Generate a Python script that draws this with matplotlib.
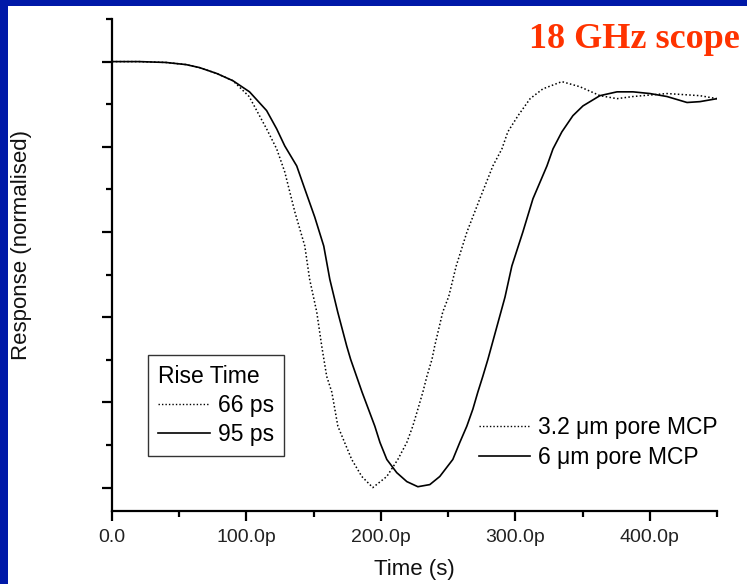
import numpy as np
import matplotlib
matplotlib.use("Agg")
import matplotlib.pyplot as plt
from matplotlib.patches import Rectangle
from matplotlib.lines import Line2D

plt.rcParams['font.family'] = ['Liberation Sans', 'DejaVu Sans']

# ---- data (time in ps, normalised response)
t_32 = [0, 20, 40, 55, 65, 78, 90, 102, 115, 122.5, 128.5, 136, 143.4, 147,
        152.3, 156, 159.7, 163.5, 168, 173, 178.3, 185.8, 194, 204.4, 212.6,
        219.3, 223.7, 227.5, 231.2, 234.2, 238, 240, 246, 250.5, 256, 264,
        273.6, 283.3, 290, 294.4, 302, 311, 320.5, 334.6, 348, 363, 375.6,
        387.5, 412.8, 437.3, 450]
v_32 = [1.000, 1.000, 0.998, 0.993, 0.986, 0.972, 0.955, 0.918, 0.842, 0.795,
        0.741, 0.647, 0.567, 0.489, 0.412, 0.332, 0.261, 0.224, 0.144, 0.106,
        0.066, 0.026, 0.000, 0.026, 0.066, 0.106, 0.144, 0.184, 0.224, 0.261,
        0.301, 0.332, 0.412, 0.449, 0.520, 0.600, 0.678, 0.755, 0.795, 0.835,
        0.873, 0.913, 0.936, 0.953, 0.941, 0.920, 0.913, 0.918, 0.925, 0.920,
        0.913]

t_6 = [0, 20, 40, 55, 65, 78, 90, 102.3, 115, 122.5, 128.5, 137.4, 143.4,
       150.8, 157.5, 162, 167.9, 174.6, 177.5, 186, 195.5, 199.3, 204.4,
       211.8, 219.3, 227.5, 236.4, 243.8, 253.5, 258.7, 263.9, 268.4, 272.1,
       275.8, 279.6, 292.3, 297.4, 305.6, 313.1, 323.5, 328, 334.6, 342.8,
       350.3, 362.9, 375.6, 387.5, 400.1, 412.8, 427.7, 437.3, 450]
v_6 = [1.000, 1.000, 0.998, 0.993, 0.986, 0.972, 0.955, 0.929, 0.885, 0.842,
       0.802, 0.755, 0.701, 0.635, 0.567, 0.489, 0.412, 0.332, 0.301, 0.224,
       0.144, 0.106, 0.066, 0.035, 0.014, 0.002, 0.007, 0.026, 0.066, 0.106,
       0.144, 0.184, 0.224, 0.261, 0.301, 0.447, 0.520, 0.600, 0.678, 0.755,
       0.795, 0.835, 0.873, 0.896, 0.920, 0.929, 0.929, 0.925, 0.918, 0.904,
       0.906, 0.913]

xticks = [0, 100, 200, 300, 400]
xtick_labels = ["0.0", "100.0p", "200.0p", "300.0p", "400.0p"]
rise_labels = ["66 ps", "95 ps"]
pore_labels = ["3.2 \u03bcm pore MCP", "6 \u03bcm pore MCP"]

fig = plt.figure(figsize=(7.47, 5.84), dpi=100)
fig.patch.set_facecolor('#0019A8')
fig.add_artist(Rectangle((8 / 747, 0), 1, 1 - 6 / 584, transform=fig.transFigure,
                         facecolor='white', edgecolor='none', zorder=-10))

ax = fig.add_axes([112 / 747, 1 - 511 / 584, 605 / 747, 492 / 584])
ax.set_facecolor('none')

l32, = ax.plot(t_32, v_32, color='black', lw=1.1, ls=(0, (1, 1.5)))
l6, = ax.plot(t_6, v_6, color='black', lw=1.2, ls='-')

ax.set_xlim(0, 450)
ax.set_ylim(-0.055, 1.1)

for s in ['top', 'right']:
    ax.spines[s].set_visible(False)
for s in ['left', 'bottom']:
    ax.spines[s].set_linewidth(1.6)

ax.set_xticks(xticks)
ax.set_xticklabels(xtick_labels)
ax.set_xticks(np.arange(50, 451, 100), minor=True)
ax.set_yticks(np.arange(0, 1.01, 0.2))
ax.set_yticklabels([])
ax.set_yticks(np.arange(0.1, 1.11, 0.2), minor=True)
ax.tick_params(which='major', length=7, width=1.6, labelsize=14,
               colors='black', labelcolor='#222222', pad=6)
ax.tick_params(which='minor', length=4, width=1.6)

ax.set_xlabel("Time (s)", fontsize=16, color='#111111')
ax.xaxis.set_label_coords(0.5, -0.098)
ax.set_ylabel("Response (normalised)", fontsize=16, color='#111111')
ax.yaxis.set_label_coords(-0.133, 0.54)

h_dot = Line2D([], [], color='black', lw=1.0, ls=(0, (1, 1.5)))
h_sol = Line2D([], [], color='black', lw=1.2, ls='-')

leg1 = ax.legend([h_dot, h_sol], rise_labels, title="Rise Time",
                 loc='upper left', bbox_to_anchor=(0.0595, 0.317),
                 borderaxespad=0, fontsize=16.5, title_fontsize=16.5,
                 frameon=True, fancybox=False, edgecolor='black',
                 handlelength=2.3, handletextpad=0.35, labelspacing=0.28,
                 borderpad=0.42, alignment='left')
leg1.get_frame().set_linewidth(1.0)
ax.add_artist(leg1)

ax.legend([h_dot, h_sol], pore_labels, loc='upper left',
          bbox_to_anchor=(0.592, 0.212), borderaxespad=0, fontsize=16.5,
          frameon=False, handlelength=2.2, handletextpad=0.35,
          labelspacing=0.3)

fig.text(740 / 747, 1 - 40 / 584, "18 GHz scope", ha='right', va='center',
         fontsize=26, fontweight='bold', color='#FF3300',
         family=['Liberation Serif', 'DejaVu Serif'])

fig.savefig("out.png", dpi=100, facecolor=fig.get_facecolor())
